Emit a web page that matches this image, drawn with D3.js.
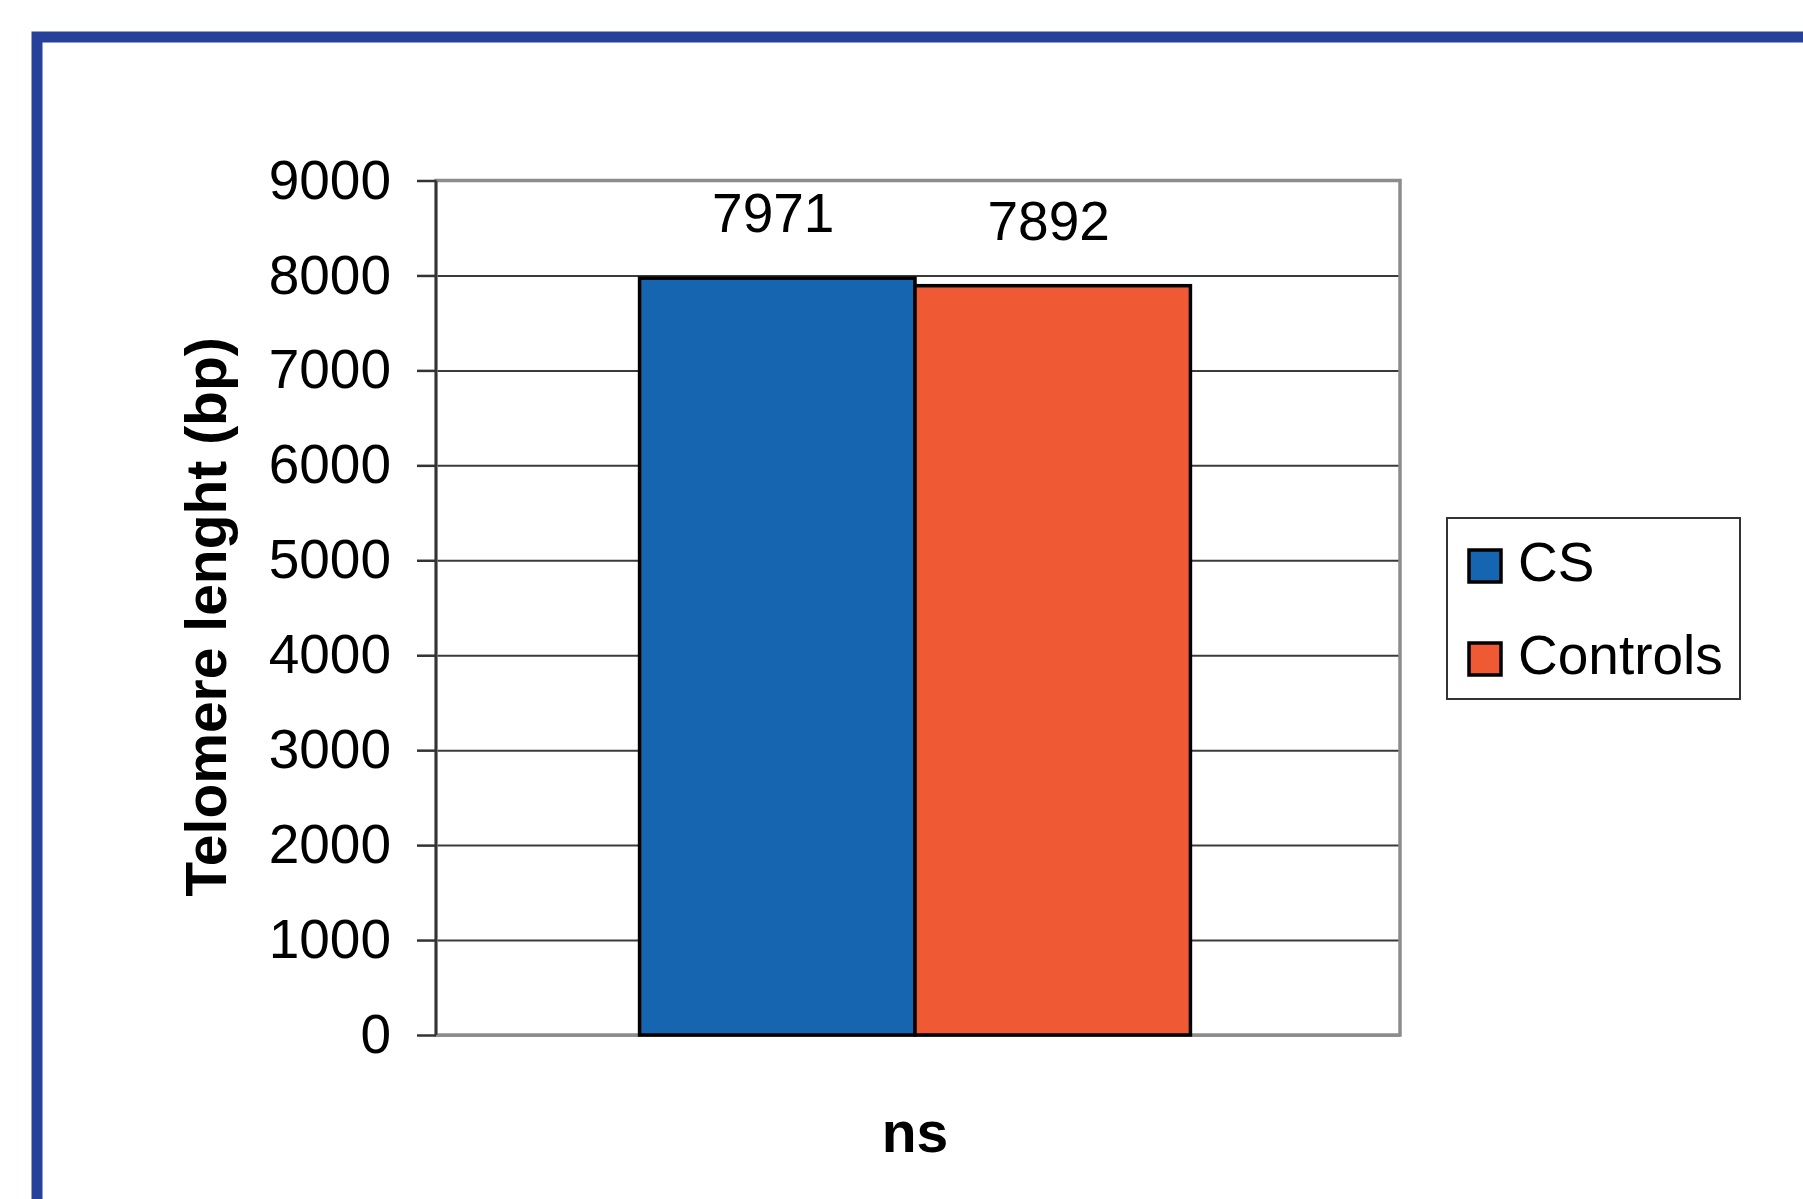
<!DOCTYPE html>
<html>
<head>
<meta charset="utf-8">
<script src="https://cdn.jsdelivr.net/npm/d3@7"></script>
<style>
  html, body { margin: 0; padding: 0; background: #ffffff; }
  svg { display: block; }
  text { font-family: "Liberation Sans", Arial, Helvetica, sans-serif; fill: #000; }
</style>
</head>
<body>
<svg id="chart" width="1803" height="1199"></svg>
<script>
// ---- data ----
const categories = ["ns"];
const seriesNames = ["CS", "Controls"];
const seriesValues = [7971, 7892];
const seriesColors = ["#1565b0", "#ef5a35"];
const yTicks = [0, 1000, 2000, 3000, 4000, 5000, 6000, 7000, 8000, 9000];
const yTitle = "Telomere lenght (bp)";

// ---- layout ----
const W = 1803, H = 1199;
const plot = { left: 436, right: 1400, top: 180.5, bottom: 1035 };
const svg = d3.select("#chart");

svg.append("rect").attr("x", 0).attr("y", 0).attr("width", W).attr("height", H).attr("fill", "#fff");

// blue frame (extends beyond the right and bottom edges)
svg.append("rect")
  .attr("x", 37).attr("y", 37)
  .attr("width", W + 40).attr("height", H + 40)
  .attr("fill", "none").attr("stroke", "#27419b").attr("stroke-width", 11);

const y = d3.scaleLinear().domain([0, 9000]).range([plot.bottom, plot.top]);
const x0 = d3.scaleBand().domain(categories).range([plot.left - 3, plot.right - 3])
  .paddingInner(0).paddingOuter(0.375);
const x1 = d3.scaleBand().domain(seriesNames).range([0, x0.bandwidth()]);

// gridlines
const grid = svg.append("g")
  .attr("transform", `translate(${plot.left},0)`)
  .call(d3.axisLeft(y).tickValues(yTicks).tickSize(-(plot.right - plot.left)).tickFormat(""));
grid.select(".domain").remove();
grid.selectAll("line").attr("stroke", "#3a3a3a").attr("stroke-width", 2);

// plot border (gray top/right/bottom)
svg.append("rect")
  .attr("x", plot.left).attr("y", plot.top)
  .attr("width", plot.right - plot.left).attr("height", plot.bottom - plot.top)
  .attr("fill", "none").attr("stroke", "#8c8c8c").attr("stroke-width", 3.5);

// bars
const groups = svg.append("g").selectAll("g").data(categories).join("g")
  .attr("transform", d => `translate(${x0(d)},0)`);
groups.selectAll("rect")
  .data(() => seriesNames.map((s, i) => ({ s, v: seriesValues[i], c: seriesColors[i] })))
  .join("rect")
  .attr("x", d => x1(d.s))
  .attr("y", d => y(d.v))
  .attr("width", x1.bandwidth())
  .attr("height", d => y(0) - y(d.v))
  .attr("fill", d => d.c)
  .attr("stroke", "#000").attr("stroke-width", 3.5);

// value labels
groups.selectAll("text.val")
  .data(() => seriesNames.map((s, i) => ({ s, v: seriesValues[i] })))
  .join("text").attr("class", "val")
  .attr("x", d => x1(d.s) + x1.bandwidth() / 2 - 4)
  .attr("y", d => y(d.v) - 46)
  .attr("text-anchor", "middle")
  .attr("font-size", 55)
  .text(d => d.v);

// y axis
const yAxis = svg.append("g")
  .attr("transform", `translate(${plot.left},0)`)
  .call(d3.axisLeft(y).tickValues(yTicks).tickSize(19).tickPadding(26).tickFormat(d3.format("d")));
yAxis.select(".domain").attr("stroke", "#333").attr("stroke-width", 2.5)
  .attr("d", `M0,${plot.top}V${plot.bottom}`);
yAxis.selectAll(".tick line").attr("stroke", "#333").attr("stroke-width", 2.5);
yAxis.selectAll(".tick text").attr("font-size", 55).attr("fill", "#000")
  .attr("font-family", "'Liberation Sans', Arial, sans-serif");

// y title
svg.append("text")
  .attr("transform", `translate(226,617) rotate(-90)`)
  .attr("text-anchor", "middle")
  .attr("font-size", 57).attr("font-weight", "bold")
  .text(yTitle);

// x category label
svg.append("text")
  .attr("x", x0(categories[0]) + x0.bandwidth() / 2)
  .attr("y", 1152)
  .attr("text-anchor", "middle")
  .attr("font-size", 57).attr("font-weight", "bold")
  .text(categories[0]);

// legend
const lg = svg.append("g").attr("transform", "translate(1447,518)");
lg.append("rect").attr("width", 293).attr("height", 181)
  .attr("fill", "#fff").attr("stroke", "#333").attr("stroke-width", 2);
const items = lg.selectAll("g.item").data(seriesNames).join("g").attr("class", "item")
  .attr("transform", (d, i) => `translate(0,${32 + i * 93})`);
items.append("rect").attr("x", 22).attr("y", 0).attr("width", 32).attr("height", 32)
  .attr("fill", (d, i) => seriesColors[i]).attr("stroke", "#000").attr("stroke-width", 3.5);
items.append("text").attr("x", 71).attr("y", 31).attr("font-size", 55).text(d => d);
</script>
</body>
</html>
